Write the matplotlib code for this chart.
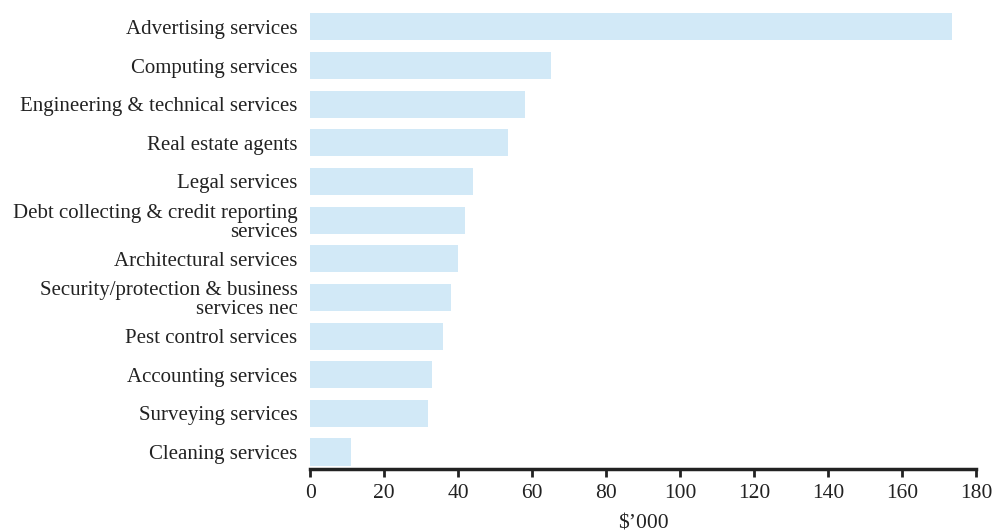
import matplotlib
matplotlib.use("Agg")
import matplotlib.pyplot as plt

categories = [
    "Advertising services",
    "Computing services",
    "Engineering & technical services",
    "Real estate agents",
    "Legal services",
    "Debt collecting & credit reporting\nservices",
    "Architectural services",
    "Security/protection & business\nservices nec",
    "Pest control services",
    "Accounting services",
    "Surveying services",
    "Cleaning services",
]
values = [173.5, 65, 58, 53.5, 44, 42, 40, 38, 36, 33, 32, 11]
x_ticks = [0, 20, 40, 60, 80, 100, 120, 140, 160, 180]
x_label = "\\$\u2019000"

plt.rcParams['font.family'] = ['Liberation Serif', 'DejaVu Serif']

fig = plt.figure(figsize=(9.97, 5.32), dpi=100)
ax = fig.add_axes([0.311, 0.1184, 0.668, 0.8666])

n = len(categories)
ypos = [n - 1 - i for i in range(n)]
ax.barh(ypos, values, height=0.7, color="#d2e9f7", edgecolor="none")

ax.set_xlim(0, 180)
ax.set_ylim(-0.44, n - 1 + 0.49)
ax.set_xticks(x_ticks)
ax.set_xticklabels([str(t) for t in x_ticks], fontsize=15.5, color="#222222")
ax.set_yticks(ypos)
ax.set_yticklabels(categories, fontsize=15, color="#222222", linespacing=1.0)
ax.tick_params(axis="y", length=0, pad=9)
ax.tick_params(axis="x", direction="out", length=6, width=2, color="#222222", pad=5)

for s in ["top", "right", "left"]:
    ax.spines[s].set_visible(False)
ax.spines["bottom"].set_linewidth(2.5)
ax.spines["bottom"].set_color("#222222")

ax.set_xlabel(x_label, fontsize=15.5, color="#222222", labelpad=8)

fig.savefig("out.png", dpi=100, facecolor="white")
